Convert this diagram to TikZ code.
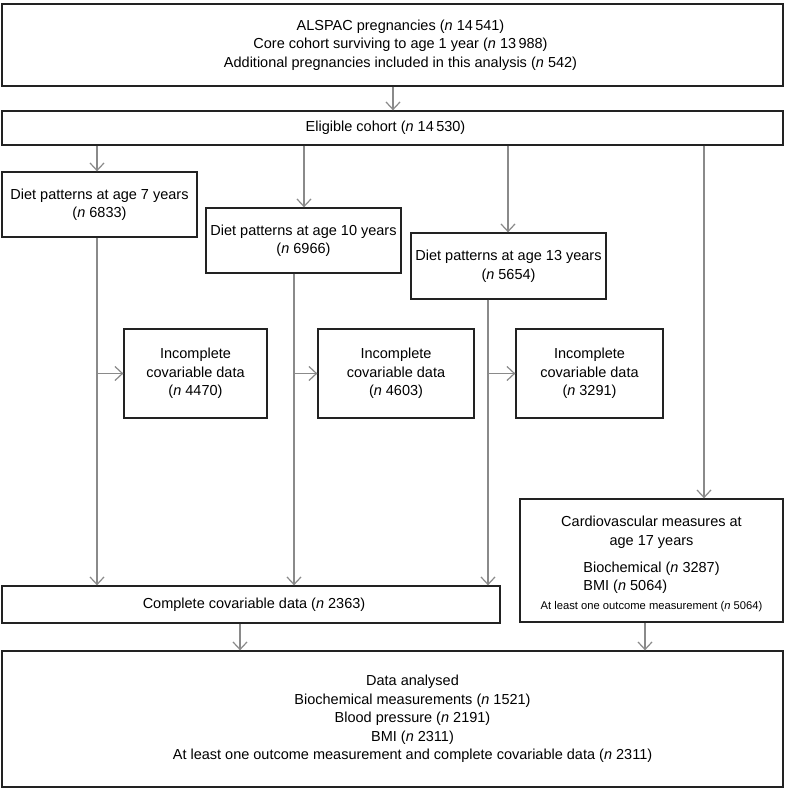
\documentclass[tikz,border=0pt]{standalone}
\usepackage{fontspec}
\setmainfont{Liberation Sans}
\usetikzlibrary{arrows.meta}
\definecolor{boxline}{HTML}{222222}
\definecolor{conn}{HTML}{8A8A8A}
\tikzset{
  box/.style={draw=boxline, line width=1.3pt, fill=white, inner sep=0pt, align=center, anchor=center,
    font=\fontsize{14.5}{18.5}\selectfont},
  arr/.style={draw=conn, line width=1.3pt, -{Straight Barb[length=7.5pt,width=14pt,line width=1.2pt]}}
}
\newcommand{\nn}{\textit{n}}
\begin{document}
\begin{tikzpicture}[x=1pt,y=-1pt]
\useasboundingbox (0,0) rectangle (785,790);

\node[box, minimum width=781pt, minimum height=82pt] (top) at (392.5,45)
  {\hspace*{16pt}\begin{tabular}{@{}c@{}}ALSPAC pregnancies (\nn{} 14\,541)\\Core cohort surviving to age 1 year (\nn{} 13\,988)\\Additional pregnancies included in this analysis (\nn{} 542)\end{tabular}};
\node[box, minimum width=781pt, minimum height=34pt] (elig) at (392.5,128)
  {\hspace*{-14pt}Eligible cohort (\nn{} 14\,530)};

\node[box, minimum width=195pt, minimum height=65pt] (d7) at (99.5,204.5)
  {Diet patterns at age 7 years\\(\nn{} 6833)};
\node[box, minimum width=195pt, minimum height=65pt] (d10) at (303.5,240.5)
  {Diet patterns at age 10 years\\(\nn{} 6966)};
\node[box, minimum width=195pt, minimum height=66pt] (d13) at (508.5,266)
  {Diet patterns at age 13 years\\(\nn{} 5654)};

\node[box, minimum width=143pt, minimum height=89pt] (i1) at (195.5,373.5)
  {Incomplete\\covariable data\\(\nn{} 4470)};
\node[box, minimum width=156pt, minimum height=89pt] (i2) at (396,373.5)
  {Incomplete\\covariable data\\(\nn{} 4603)};
\node[box, minimum width=147pt, minimum height=89pt] (i3) at (589.5,373.5)
  {Incomplete\\covariable data\\(\nn{} 3291)};

\node[box, minimum width=263pt, minimum height=123pt] (cv) at (651.5,560.5)
  {\begin{tabular}{@{}c@{}}\rule{0pt}{21pt}Cardiovascular measures at\\ age 17 years\\[8.5pt]
   \begin{tabular}[t]{@{}l@{}}Biochemical (\nn{} 3287)\\ BMI (\nn{} 5064)\end{tabular}\\[1.5pt]
   {\fontsize{11.2}{14}\selectfont At least one outcome measurement (\nn{} 5064)}\end{tabular}};

\node[box, minimum width=498pt, minimum height=37pt] (comp) at (251,604.5)
  {\hspace*{6pt}Complete covariable data (\nn{} 2363)};

\node[box, minimum width=781pt, minimum height=136pt] (fin) at (392.5,719)
  {\hspace*{40pt}\begin{tabular}{@{}c@{}}Data analysed\\Biochemical measurements (\nn{} 1521)\\Blood pressure (\nn{} 2191)\\BMI (\nn{} 2311)\\At least one outcome measurement and complete covariable data (\nn{} 2311)\end{tabular}};

% x positions of connectors
\coordinate (xa) at (393,0);
\coordinate (x7) at (97,0);
\coordinate (x10) at (304,0);
\coordinate (x13) at (508,0);
\coordinate (xcv) at (704,0);
\coordinate (y10) at (294,0);
\coordinate (y13) at (488,0);
\coordinate (xf1) at (240,0);
\coordinate (xf2) at (645,0);

\draw[arr] (top.south -| xa) -- (elig.north -| xa);
\draw[arr] (elig.south -| x7) -- (d7.north -| x7);
\draw[arr] (elig.south -| x10) -- (d10.north -| x10);
\draw[arr] (elig.south -| x13) -- (d13.north -| x13);
\draw[arr] (elig.south -| xcv) -- (cv.north -| xcv);

\draw[arr] (d7.south -| x7) -- (comp.north -| x7);
\draw[arr] (d10.south -| y10) -- (comp.north -| y10);
\draw[arr] (d13.south -| y13) -- (comp.north -| y13);

\draw[arr] (i1.west -| x7) -- (i1.west);
\draw[arr] (i2.west -| y10) -- (i2.west);
\draw[arr] (i3.west -| y13) -- (i3.west);

\draw[arr] (comp.south -| xf1) -- (fin.north -| xf1);
\draw[arr] (cv.south -| xf2) -- (fin.north -| xf2);
\end{tikzpicture}
\end{document}
